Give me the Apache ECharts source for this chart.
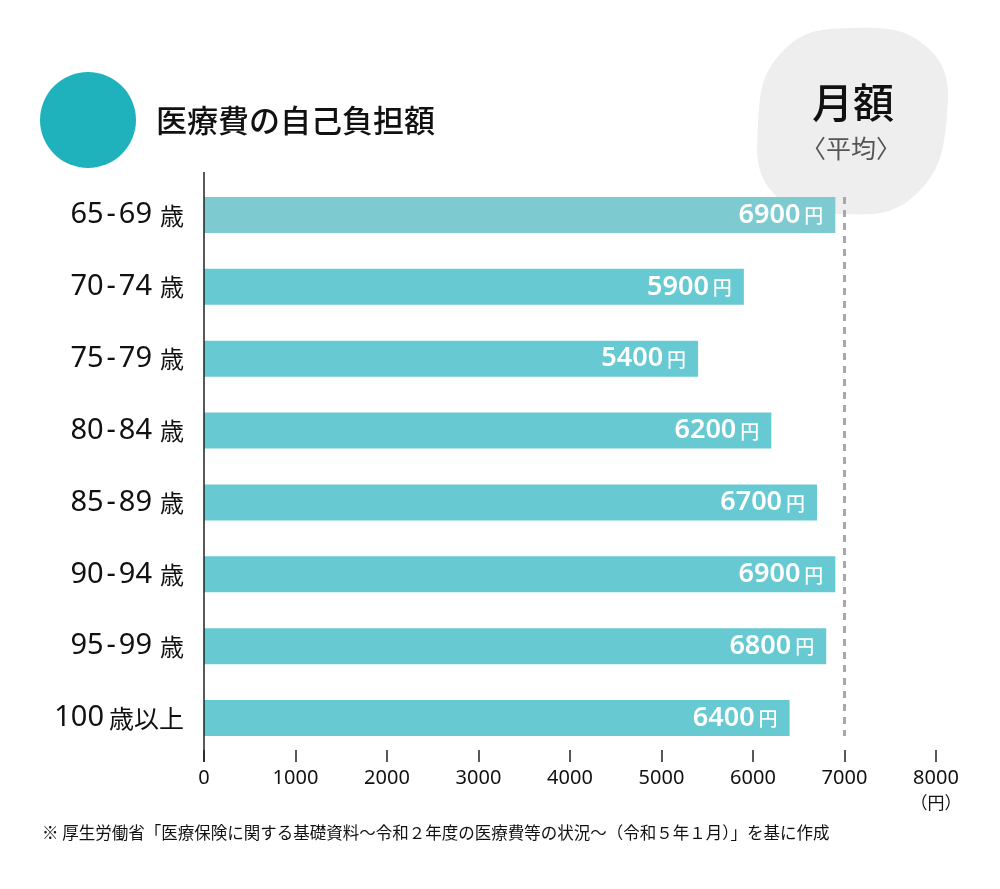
<!DOCTYPE html>
<html><head><meta charset="utf-8">
<script src="https://cdn.jsdelivr.net/npm/echarts@6/dist/echarts.min.js"></script>
<style>html,body{margin:0;padding:0;background:#fff}#c{width:1000px;height:889px}</style>
</head><body><div id="c"></div>
<script>
const categories = ['65-69 歳','70-74 歳','75-79 歳','80-84 歳','85-89 歳','90-94 歳','95-99 歳','100 歳以上'];
const values = [6900,5900,5400,6200,6700,6900,6800,6400];
const averageLine = 7000;
const xTicks = [0,1000,2000,3000,4000,5000,6000,7000,8000];
const titleText = '医療費の自己負担額';
const badgeMain = '月額';
const badgeSub = '〈平均〉';
const unit = '円';
const footnote = '※ 厚生労働省「医療保険に関する基礎資料～令和２年度の医療費等の状況～（令和５年１月）」を基に作成';

const NUMF = '"Noto Sans", sans-serif';
const JPF = '"Noto Sans CJK JP", sans-serif';
const chart = echarts.init(document.getElementById('c'));

const barColors = ['#7dcbd1','#67c9d2','#67c9d2','#67c9d2','#67c9d2','#67c9d2','#67c9d2','#67c9d2'];

const decor = (x0,x7,yTop,yBot)=>[
  {type:'polygon',z:0,shape:{points:[[850,28],[928,48],[947,116],[914,196],[838,214],[774,194],[758,126],[782,52]],smooth:0.45},style:{fill:'#eeeeee'}},
  {type:'circle',shape:{cx:88,cy:120,r:48},style:{fill:'#1fb2bd'}},
  {type:'text',style:{text:titleText,x:156,y:120,verticalAlign:'middle',fontSize:31,fontFamily:JPF,fontWeight:500,fill:'#111'}},
  {type:'text',z:5,style:{text:badgeMain,x:853,y:102,align:'center',verticalAlign:'middle',fontSize:41,fontFamily:JPF,fontWeight:500,fill:'#111'}},
  {type:'text',z:5,style:{text:badgeSub,x:851,y:148,align:'center',verticalAlign:'middle',fontSize:25,fontFamily:JPF,fill:'#555'}},
  {type:'text',style:{text:footnote,x:42,y:833,verticalAlign:'middle',fontSize:16.5,fontFamily:JPF,fill:'#111'}}
].concat(x0==null?[]:[
  {type:'line',z:4,shape:{x1:x0,y1:172,x2:x0,y2:762},style:{stroke:'#222',lineWidth:1.5}},
  {type:'line',z:4,shape:{x1:x7,y1:yTop,x2:x7,y2:yBot},style:{stroke:'#a8a8a8',lineWidth:3,lineDash:[7,6]}}
]);

chart.setOption({
  animation:false,
  grid:{left:204,right:64,top:179,bottom:135},
  xAxis:{type:'value',min:0,max:8000,interval:1000,offset:-4,
    splitLine:{show:false},axisLine:{show:false},
    axisTick:{show:true,length:12,lineStyle:{color:'#222',width:1.5}},
    axisLabel:{margin:17,color:'#111',fontSize:20,fontFamily:NUMF,verticalAlign:'top',lineHeight:22,
      formatter:v=> v===8000 ? v+'\n{u|（'+unit+'）}' : String(v),
      rich:{u:{fontSize:17,fontFamily:JPF,color:'#111',lineHeight:22,verticalAlign:'bottom'}}}
  },
  yAxis:{type:'category',data:categories,inverse:true,
    axisLine:{show:false},axisTick:{show:false},
    axisLabel:{margin:20,color:'#111',
      formatter:s=>{const m=s.match(/^([0-9]+)(-?)([0-9]*)\s*(.*)$/);
        const num=m[1]+(m[2]?'\u200A-\u200A'+m[3]:'');
        return '{n|'+num+'}{'+(m[2]?'k':'k2')+'|'+m[4]+'}';},
      rich:{n:{fontSize:29,fontFamily:NUMF,color:'#111',verticalAlign:'bottom'},
            k:{fontSize:24,fontFamily:JPF,color:'#111',verticalAlign:'bottom',padding:[0,0,2,8]},
            k2:{fontSize:25,fontFamily:JPF,color:'#111',verticalAlign:'bottom',padding:[0,0,2,5]}}}
  },
  series:[{type:'bar',barWidth:36,z:3,
    data:values.map((v,i)=>({value:v,itemStyle:{color:barColors[i]}})),
    label:{show:true,position:'insideRight',distance:12,
      formatter:p=>'{n|'+p.value+'}{u|'+unit+'}',
      rich:{n:{fontSize:27,fontFamily:NUMF,color:'#fff',fontWeight:600},u:{fontSize:19,fontFamily:JPF,color:'#fff',fontWeight:500,padding:[2,0,0,4]}}}
  }],
  graphic:decor()
});

const x0 = chart.convertToPixel({xAxisIndex:0},0);
const x7 = chart.convertToPixel({xAxisIndex:0},averageLine);
const yTop = chart.convertToPixel({yAxisIndex:0},categories[0]) - 18;
const yBot = chart.convertToPixel({yAxisIndex:0},categories[categories.length-1]) + 18;
chart.setOption({graphic:decor(x0,x7,yTop,yBot)}, {replaceMerge:['graphic']});
</script></body></html>
